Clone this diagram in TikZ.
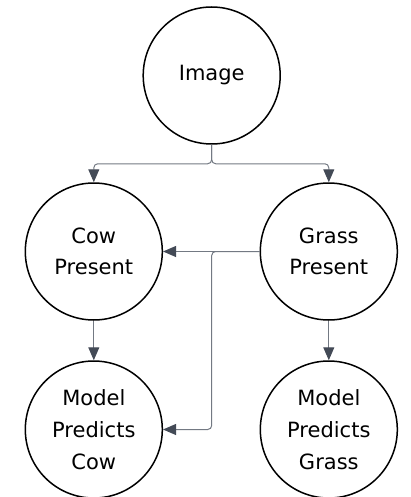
\documentclass[tikz,border=0pt]{standalone}
\usepackage{fontspec}
\setmainfont{DejaVu Sans}
\usetikzlibrary{calc,arrows.meta}
\definecolor{linegray}{HTML}{737983}
\definecolor{tipgray}{HTML}{434A56}

\begin{document}
\begin{tikzpicture}[x=1pt, y=-1pt,
    state/.style={draw, circle, line width=1.5pt, minimum size=137pt, inner sep=0pt,
      align=center, font=\fontsize{21}{31.7}\selectfont},
    conn/.style={draw=linegray, line width=1pt, rounded corners=4pt,
      -{Triangle[length=13pt, width=11pt, color=tipgray]}}]
    \useasboundingbox (0,0) rectangle (410,497);
    \node[state] (img) at (211.7,75.5) {Image};
    \node[state] (cow) at (93.8,251.5) {Cow\\Present};
    \node[state] (grass) at (328.8,251.5) {Grass\\Present};
    \node[state] (mpc) at (93.8,429.5) {Model\\Predicts\\Cow};
    \node[state] (mpg) at (328.8,429.5) {Model\\Predicts\\Grass};
    \coordinate (split) at ($(img.south)+(0,19)$);
    \coordinate (jn) at (img.south |- grass.west);
    \draw[conn] (img.south) -- (split) -| (cow.north);
    \draw[conn] (img.south) -- (split) -| (grass.north);
    \draw[conn] (grass.west) -- (cow.east);
    \draw[conn] (grass.west) -- (jn) |- (mpc.east);
    \draw[conn] (cow.south) -- (mpc.north);
    \draw[conn] (grass.south) -- (mpg.north);
\end{tikzpicture}
\end{document}
